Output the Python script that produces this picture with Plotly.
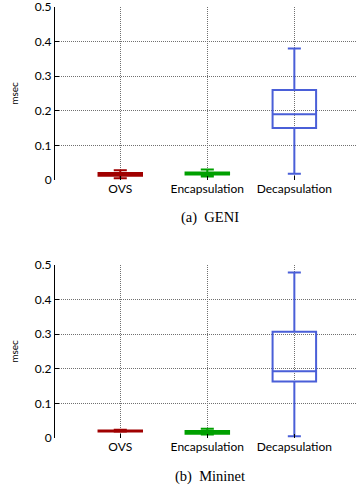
import plotly.graph_objects as go

categories = ["OVS", "Encapsulation", "Decapsulation"]
colors = ["#a00000", "#00a000", "#4a5fd8"]

# GENI
geni_low = [0.005, 0.010, 0.018]
geni_q1 = [0.012, 0.016, 0.150]
geni_med = [0.016, 0.019, 0.190]
geni_q3 = [0.020, 0.022, 0.260]
geni_high = [0.028, 0.030, 0.380]

# Mininet
mn_low = [0.018, 0.010, 0.005]
mn_q1 = [0.019, 0.012, 0.163]
mn_med = [0.020, 0.016, 0.193]
mn_q3 = [0.022, 0.020, 0.307]
mn_high = [0.024, 0.027, 0.478]

yticks = [0, 0.1, 0.2, 0.3, 0.4, 0.5]
ytick_text = ["0", "0.1", "0.2", "0.3", "0.4", "0.5"]

W, H = 357, 501
fig = go.Figure()

def add_boxes(low, q1, med, q3, high, xa, ya):
    for i, c in enumerate(categories):
        fig.add_trace(go.Box(
            x=[c], q1=[q1[i]], median=[med[i]], q3=[q3[i]],
            lowerfence=[low[i]], upperfence=[high[i]],
            line=dict(color=colors[i], width=2),
            fillcolor="rgba(255,255,255,0)",
            width=0.5, whiskerwidth=0.3,
            boxpoints=False, showlegend=False,
            xaxis=xa, yaxis=ya,
        ))

add_boxes(geni_low, geni_q1, geni_med, geni_q3, geni_high, "x", "y")
add_boxes(mn_low, mn_q1, mn_med, mn_q3, mn_high, "x2", "y2")

xdom = [55 / W, 1.0]
top_dom = [1 - 180 / H, 1 - 7 / H]
bot_dom = [1 - 438 / H, 1 - 265 / H]

FONT = "Lato, Open Sans, sans-serif"
tickfont = dict(family=FONT, size=12, color="black")
GRID = "#707070"

def xaxis(dom, anchor):
    return dict(domain=dom, anchor=anchor, type="category",
                categoryorder="array", categoryarray=categories,
                range=[-0.75, 2.72], automargin=False,
                showgrid=True, gridcolor=GRID, griddash="1px,1px", gridwidth=1,
                ticks="inside", ticklen=4, tickcolor="black",
                showline=False, zeroline=False, tickfont=tickfont)

def yaxis(dom, anchor):
    return dict(domain=dom, anchor=anchor, range=[0, 0.5], automargin=False,
                tickvals=yticks, ticktext=ytick_text, ticklabeloverflow="allow",
                showgrid=True, gridcolor=GRID, griddash="1px,1px", gridwidth=1,
                ticks="inside", ticklen=4, tickcolor="black",
                showline=True, linecolor="black", linewidth=1,
                zeroline=False, tickfont=tickfont,
                title=dict(text="msec", font=dict(family=FONT, size=10, color="black"), standoff=14))

fig.update_layout(
    width=W, height=H, autosize=False,
    margin=dict(l=0, r=0, t=0, b=0),
    paper_bgcolor="white", plot_bgcolor="white",
    xaxis=xaxis(xdom, "y"), yaxis=yaxis(top_dom, "x"),
    xaxis2=xaxis(xdom, "y2"), yaxis2=yaxis(bot_dom, "x2"),
    annotations=[
        dict(text="(a)  GENI", x=210 / W, y=1 - 217 / H, xref="paper", yref="paper",
             showarrow=False, font=dict(family="Liberation Serif, Times New Roman, serif", size=14.5, color="black")),
        dict(text="(b)  Mininet", x=210 / W, y=1 - 487 / H, xref="paper", yref="paper",
             showarrow=False, font=dict(family="Liberation Serif, Times New Roman, serif", size=14.5, color="black")),
    ],
)

fig.write_html("out.html", config={"displayModeBar": False},
               post_script="document.body.style.margin='0px';")
